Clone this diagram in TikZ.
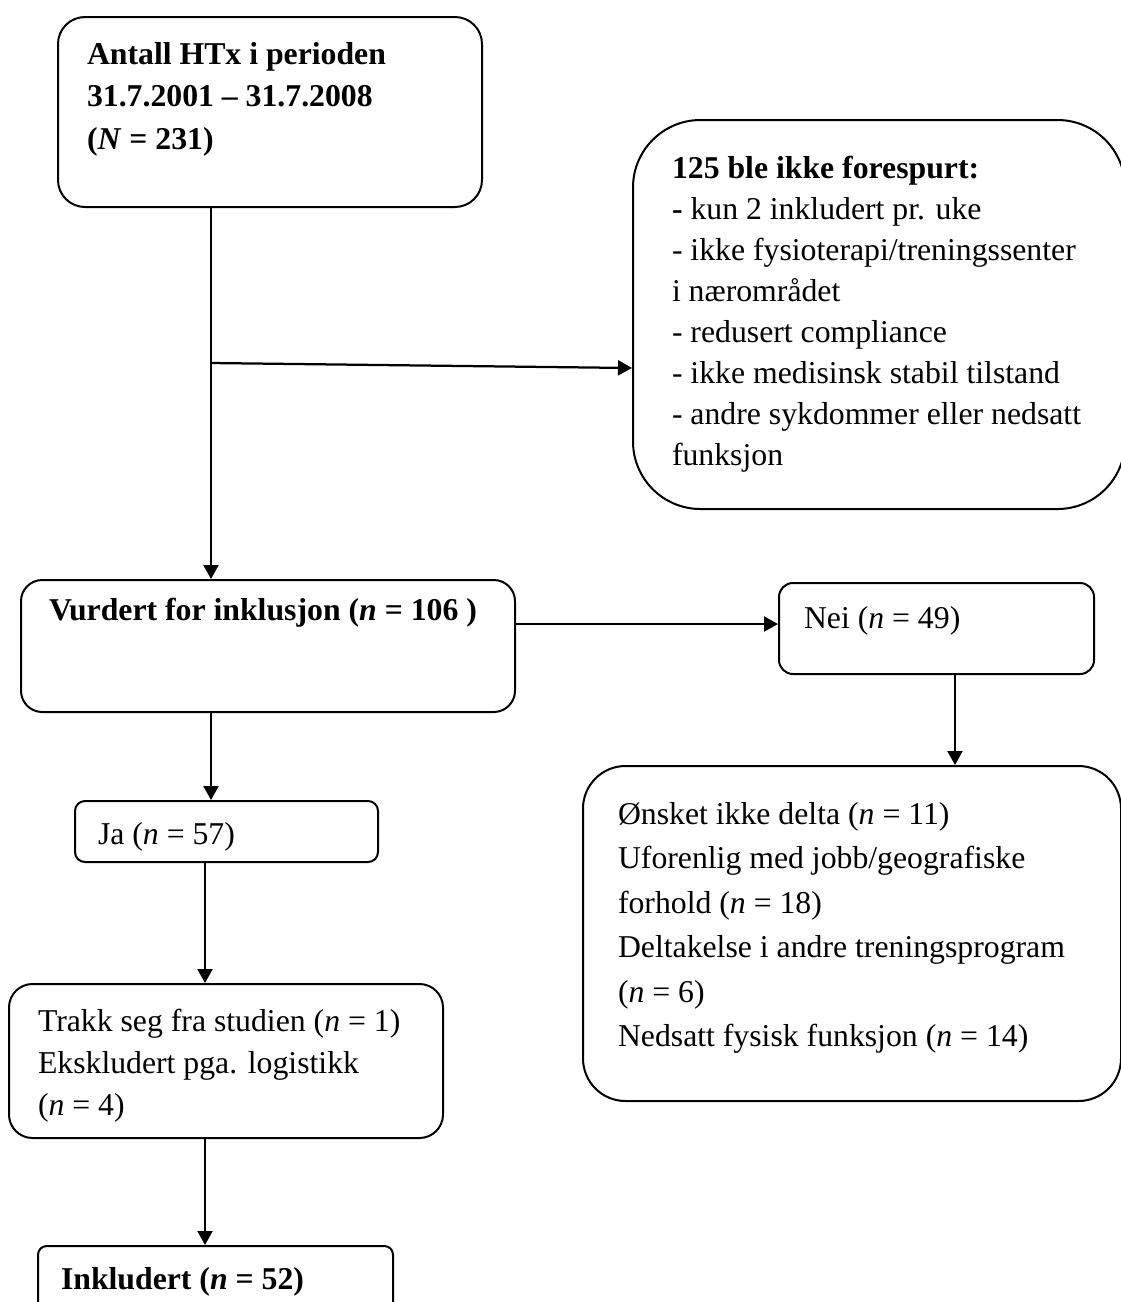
\documentclass[tikz,border=0pt]{standalone}
\usepackage{fontspec}
\setmainfont{Liberation Serif}
\usetikzlibrary{arrows.meta,positioning,calc}

% box text: width, height, left pad, top gap, text
\newcommand{\boxtxt}[5]{\parbox[t][#2][t]{#1}{\raggedright\leftskip=#3\relax\vspace*{#4}#5}}

\begin{document}
\begin{tikzpicture}[
    x=0.4pt, y=-0.4pt,
    box/.style={draw, line width=0.8pt, anchor=north west, inner sep=0pt, font=\fontsize{12.7pt}{16.8pt}\selectfont},
    arr/.style={-{Triangle[length=5.6pt,width=6pt]}, line width=0.9pt}
]
\useasboundingbox (0,0) rectangle (1121,1302);

\node[box, rounded corners=10.8pt, font=\fontsize{12.7pt}{17pt}\selectfont] (antall) at (57,16)
    {\boxtxt{169.6pt}{76pt}{11.6pt}{10pt}{\bfseries Antall HTx i perioden\\ 31.7.2001 – 31.7.2008\\ (\textit{N} = 231)}};
\node[box, rounded corners=27pt, font=\fontsize{12.7pt}{16.4pt}\selectfont] (ikke) at (632,119)
    {\boxtxt{196.8pt}{155.6pt}{15.6pt}{14.4pt}{\textbf{125 ble ikke forespurt:}\\ \textbf{-} kun 2 inkludert pr. uke\\ - ikke fysioterapi/treningssenter\\ i nærområdet\\ - redusert compliance\\ - ikke medisinsk stabil tilstand\\ - andre sykdommer eller nedsatt\\ funksjon}};
\node[box, rounded corners=8.5pt] (vurd) at (20,579)
    {\boxtxt{197.6pt}{52.8pt}{11.2pt}{7.2pt}{\bfseries Vurdert for inklusjon (\textit{n} = 106 )}};
\node[box, rounded corners=5.6pt] (nei) at (778,582)
    {\boxtxt{126pt}{36.4pt}{10pt}{9.2pt}{Nei (\textit{n} = 49)}};
\node[box, rounded corners=17pt, font=\fontsize{12.7pt}{17.8pt}\selectfont] (grunn) at (582,765)
    {\boxtxt{215.2pt}{134pt}{14pt}{14.4pt}{Ønsket ikke delta (\textit{n} = 11)\\ Uforenlig med jobb/geografiske\\ forhold (\textit{n} = 18)\\ Deltakelse i andre treningsprogram\\ (\textit{n} = 6)\\ Nedsatt fysisk funksjon (\textit{n} = 14)}};
\node[box, rounded corners=4pt] (ja) at (74,800)
    {\boxtxt{121.2pt}{24.4pt}{9.2pt}{8.4pt}{Ja (\textit{n} = 57)}};
\node[box, rounded corners=9.4pt] (trakk) at (8,983)
    {\boxtxt{173.6pt}{61.6pt}{11.6pt}{10pt}{Trakk seg fra studien (\textit{n} = 1)\\ Ekskludert pga. logistikk\\ (\textit{n} = 4)}};
\node[box, rounded corners=3.5pt] (inkl) at (37,1245)
    {\boxtxt{142pt}{32pt}{9.2pt}{8.4pt}{\bfseries Inkludert (\textit{n} = 52)}};

\coordinate (split) at (211,363);
\coordinate (spine) at (205,0);
\coordinate (side) at (955,0);
\coordinate (nolink) at (0,624);

\draw[arr] (antall.south -| split) -- (vurd.north -| split);
\draw[arr] (split) -- ([yshift=-2pt]ikke.west |- split);
\draw[arr] (vurd.east |- nolink) -- (nei.west |- nolink);
\draw[arr] (nei.south -| side) -- (grunn.north -| side);
\draw[arr] (vurd.south -| split) -- (ja.north -| split);
\draw[arr] (ja.south -| spine) -- (trakk.north -| spine);
\draw[arr] (trakk.south -| spine) -- (inkl.north -| spine);
\end{tikzpicture}
\end{document}
